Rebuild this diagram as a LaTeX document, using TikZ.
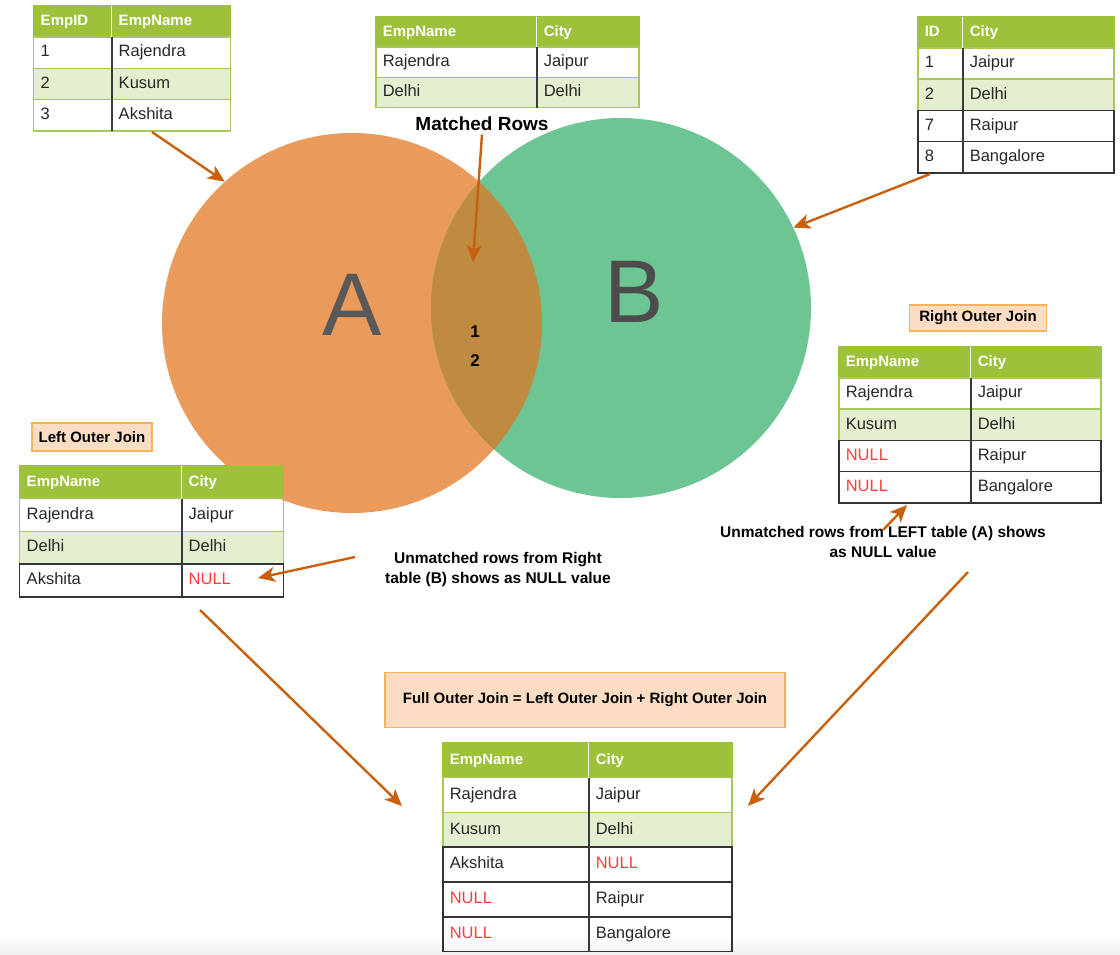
\documentclass[tikz,border=0pt]{standalone}
\usepackage{fontspec}
\setmainfont{Liberation Sans}
\usetikzlibrary{matrix,arrows.meta,positioning}

\definecolor{hdgreen}{HTML}{9DC13B}
\definecolor{linegreen}{HTML}{A6C95A}
\definecolor{rowgreen}{HTML}{E3EFCF}
\definecolor{divgrey}{HTML}{3A3A3A}
\definecolor{nullred}{HTML}{FF3B3B}
\definecolor{arrowc}{HTML}{C8600E}
\definecolor{circA}{HTML}{EA9A5A}
\definecolor{circB}{HTML}{6CC592}
\definecolor{overlapc}{HTML}{BF8B41}
\definecolor{tagfill}{HTML}{FCDDC3}
\definecolor{tagedge}{HTML}{F2B45B}

\newcommand{\cellfont}{\fontsize{16.5}{19}\selectfont}
\newcommand{\headfont}{\fontsize{15}{18}\selectfont\bfseries}
\newcommand{\notefont}{\fontsize{15.5}{20}\selectfont\bfseries}
\newcommand{\nul}{\textcolor{nullred}{NULL}}

\begin{document}
\begin{tikzpicture}[x=1pt, y=-1pt,
	tbl/.style={matrix of nodes, anchor=north west, inner sep=0pt, outer sep=0pt,
		row sep=-1.5pt, column sep=-1.5pt,
		nodes={draw=linegreen, line width=1.5pt, minimum height=#1, outer sep=0pt,
			text height=12pt, text depth=3.5pt, inner xsep=7pt, align=left,
			font=\cellfont, text=black!85},
		row 1/.style={nodes={fill=hdgreen, draw=hdgreen, text=white, font=\headfont}},
		row 3/.style={nodes={fill=rowgreen}}},
	cols/.style 2 args={column 1/.style={nodes={text width=#1}},
		column 2/.style={nodes={text width=#2}}},
	darkrow/.style={nodes={draw=black!80}},
	divider/.style={draw=divgrey, line width=1.8pt},
	hddiv/.style={draw=white, line width=1pt},
	tag/.style={draw=tagedge, fill=tagfill, line width=1.5pt, inner sep=0pt,
		font=\fontsize{15}{18}\selectfont\bfseries},
	note/.style={font=\notefont, align=center},
	arr/.style={draw=arrowc, line width=2.4pt, -{Stealth[length=17pt,width=15pt,inset=4.5pt]}},
	setlabel/.style={font=\fontsize{89}{89}\selectfont, text=black!65}]

	\useasboundingbox (0,0) rectangle (1120,954);
	\shade[top color=white, bottom color=black!6] (0,936) rectangle (1120,954);

	% sets
	\node[circle, fill=circA, minimum size=380pt, inner sep=0pt] (setA) at (352,323) {};
	\node[circle, fill=circB, minimum size=380pt, inner sep=0pt] (setB) at (621,308) {};
	\begin{scope}
		\clip (352,323) circle[radius=190pt];
		\fill[overlapc] (621,308) circle[radius=190pt];
	\end{scope}
	\node[setlabel] (labA) at (352,305) {A};
	\node[setlabel, text=black!70] (labB) at (634,292) {B};
	\node[font=\fontsize{17}{29}\selectfont\bfseries, align=center] (keys) at (475,346) {1\\2};
	\node[font=\fontsize{19}{22}\selectfont\bfseries] (matched) at (482,124) {Matched Rows};

	% source tables
	\matrix (emptbl) [tbl=31.25pt, cols={64pt}{105pt}] at (33,5) {
		EmpID & EmpName \\
		1 & Rajendra \\
		2 & Kusum \\
		3 & Akshita \\
	};
	\matrix (innertbl) [tbl=30.3pt, cols={147pt}{88pt}] at (375,16) {
		EmpName & City \\
		Rajendra & Jaipur \\
		Delhi & Delhi \\
	};
	\matrix (citytbl) [tbl=31.2pt, cols={31pt}{137pt}, row 4/.style={darkrow}, row 5/.style={darkrow}] at (917,16) {
		ID & City \\
		1 & Jaipur \\
		2 & Delhi \\
		7 & Raipur \\
		8 & Bangalore \\
	};

	% joins
	\node[tag, minimum width=137pt, minimum height=26pt] (rtag) at (978,318) {Right Outer Join};
	\matrix (righttbl) [tbl=31.2pt, cols={118pt}{116pt}, row 4/.style={darkrow}, row 5/.style={darkrow}] at (838,346) {
		EmpName & City \\
		Rajendra & Jaipur \\
		Kusum & Delhi \\
		\nul & Raipur \\
		\nul & Bangalore \\
	};
	\node[tag, minimum width=120pt, minimum height=28pt] (ltag) at (92,437) {Left Outer Join};
	\matrix (lefttbl) [tbl=32.75pt, cols={148pt}{88pt}, row 4/.style={darkrow}] at (19,465) {
		EmpName & City \\
		Rajendra & Jaipur \\
		Delhi & Delhi \\
		Akshita & \nul \\
	};
	\node[tag, minimum width=400pt, minimum height=55pt] (ftag) at (585,700) {Full Outer Join = Left Outer Join + Right Outer Join};
	\matrix (fulltbl) [tbl=34.8pt, cols={132pt}{129pt}, row 4/.style={darkrow}, row 5/.style={darkrow}, row 6/.style={darkrow}] at (442,742) {
		EmpName & City \\
		Rajendra & Jaipur \\
		Kusum & Delhi \\
		Akshita & \nul \\
		\nul & Raipur \\
		\nul & Bangalore \\
	};

	\foreach \t/\n in {emptbl/4, innertbl/3, citytbl/5, righttbl/5, lefttbl/4, fulltbl/6} {
		\draw[hddiv] (\t-1-1.north east) -- (\t-1-1.south east);
		\draw[divider] (\t-2-1.north east) -- (\t-\n-1.south east);
	}

	\node[note] (leftnote) at (498,569) {Unmatched rows from Right\\table (B) shows as NULL value};
	\node[note] (rightnote) at (883,542) {Unmatched rows from LEFT table (A) shows\\as NULL value};

	\coordinate (empout) at (152,132);
	\coordinate (cityout) at (930,174);
	\coordinate (leftin) at (355,557);
	\coordinate (nulltip) at (258,578);
	\coordinate (rightin) at (883,530);
	\coordinate (righttip) at (907,505);
	\coordinate (lout) at (200,610);
	\coordinate (rout) at (968,572);
	\coordinate (fullinL) at (402,806);
	\coordinate (fullinR) at (748,806);
	\coordinate (keytip) at (473,262);

	\draw[arr] (empout) -- (setA.132);
	\draw[arr] (matched.south) -- (keytip);
	\draw[arr] (cityout) -- (setB.25);
	\draw[arr] (leftin) -- (nulltip);
	\draw[arr] (rightin) -- (righttip);
	\draw[arr] (lout) -- (fullinL);
	\draw[arr] (rout) -- (fullinR);
\end{tikzpicture}
\end{document}
